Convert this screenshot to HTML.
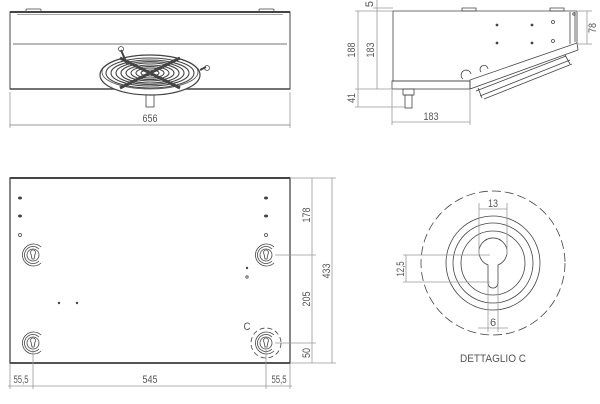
<!DOCTYPE html>
<html><head><meta charset="utf-8"><style>
html,body{margin:0;padding:0;background:#fff;}
svg{display:block}
text{font-family:"Liberation Sans",sans-serif;fill:#555;font-size:11px}
</style></head><body>
<svg width="600" height="404" viewBox="0 0 600 404" xmlns="http://www.w3.org/2000/svg">
<g fill="none" stroke="#444" stroke-width="0.8">
<!-- FRONT VIEW -->
<rect x="26" y="9" width="15" height="3" rx="1"/>
<rect x="259" y="9" width="15" height="3" rx="1"/>
<rect x="10" y="12" width="280" height="77" stroke-width="1"/>
<line x1="10" y1="12" x2="290" y2="12" stroke-width="2"/>
<line x1="17" y1="14.5" x2="283" y2="14.5" stroke="#888"/>
<line x1="13" y1="44" x2="287" y2="44"/>
<line x1="10" y1="89" x2="290" y2="89" stroke-width="1.6"/>
<rect x="146" y="89" width="8" height="18"/>
<ellipse cx="150" cy="75" rx="50" ry="20" fill="#fff" stroke-width="1.2"/>
<ellipse cx="150" cy="72" rx="48" ry="17"/>
<g stroke-width="1.1">
<ellipse cx="150" cy="73" rx="44" ry="15"/>
<ellipse cx="150" cy="73" rx="39" ry="13"/>
<ellipse cx="150" cy="73" rx="34" ry="11.5"/>
<ellipse cx="150" cy="73" rx="29" ry="10"/>
<ellipse cx="150" cy="73" rx="24" ry="8"/>
<ellipse cx="150" cy="73" rx="19" ry="6.5"/>
<ellipse cx="150" cy="73" rx="14" ry="5"/>
<ellipse cx="150" cy="73" rx="9" ry="3"/>
</g>
<path d="M120 58 L180 88 M180 58 L120 88" stroke-width="3"/>
<path d="M121 50 L127 64 M200 70 L206 67" stroke-width="2"/>
<circle cx="121" cy="49" r="2.5"/><circle cx="207" cy="68" r="2.5"/>
<line x1="10" y1="92" x2="10" y2="128" stroke="#999"/>
<line x1="290" y1="92" x2="290" y2="128" stroke="#999"/>
<line x1="10" y1="125" x2="290" y2="125" stroke="#777"/>
<!-- SIDE VIEW -->
<path d="M393 11 L577 11 L577 43 L470 80 L470 81 L393 81 Z"/>
<rect x="392" y="81" width="78" height="8"/>
<path d="M470 81 L470 89 L578 50 L577 43"/>
<path d="M462 11 h14 v-3 h-14z M550 11 h14 v-3 h-14z"/>
<path d="M570 12 v32 M575 12 v30"/>
<circle cx="574" cy="14" r="1.2"/>
<path d="M476 91 L566 56 M480 96 L570 60 M484 99 L572 64 M478 88 L482 98 M565 55 L570 64" />
<path d="M463 79 a5 5 0 1 1 8 -5 M481 72 a4 4 0 1 1 7 -3"/>
<circle cx="497" cy="25" r="1" fill="#444"/><circle cx="532" cy="25" r="1" fill="#444"/>
<circle cx="497" cy="43" r="1" fill="#444"/><circle cx="532" cy="43" r="1" fill="#444"/>
<circle cx="553" cy="22" r="1.5"/><circle cx="553" cy="41" r="1.5"/>
<rect x="403" y="89" width="11" height="6"/>
<rect x="405" y="95" width="7" height="13"/>
<g stroke="#999">
<line x1="358" y1="11" x2="358" y2="89"/><line x1="377" y1="11" x2="377" y2="89"/>
<line x1="355" y1="11" x2="393" y2="11"/><line x1="373" y1="8" x2="393" y2="8"/>
<line x1="377" y1="0" x2="377" y2="11"/>
<line x1="355" y1="89" x2="392" y2="89"/><line x1="358" y1="89" x2="358" y2="107"/>
<line x1="355" y1="107" x2="405" y2="107"/>
<line x1="392" y1="90" x2="392" y2="125"/><line x1="470" y1="90" x2="470" y2="125"/>
<line x1="392" y1="122" x2="470" y2="122"/>
<line x1="578" y1="11" x2="592" y2="11"/><line x1="578" y1="44" x2="592" y2="44"/>
<line x1="587" y1="11" x2="587" y2="44"/>
</g>
<!-- PLAN VIEW -->
<rect x="10" y="178" width="280" height="185" stroke-width="1.3"/>
<line x1="10" y1="178" x2="290" y2="178" stroke-width="2"/>
<line x1="10" y1="363" x2="290" y2="363" stroke-width="1.8"/>
<g fill="#444" stroke="none">
<ellipse cx="20" cy="198" rx="2" ry="1.5"/><ellipse cx="20" cy="216" rx="2" ry="1.5"/>
<ellipse cx="266" cy="198" rx="2" ry="1.5"/><ellipse cx="266" cy="216" rx="2" ry="1.5"/>
<circle cx="247" cy="268" r="1.2"/><circle cx="59" cy="303" r="1.2"/><circle cx="77" cy="303" r="1.2"/>
</g>
<circle cx="20" cy="235" r="1.5"/><circle cx="266" cy="235" r="1.5"/><circle cx="247" cy="277" r="1.2"/>
<g id="kh">
<path d="M41 263 A11 11 0 1 1 41 247"/>
<path d="M39 261 A8.5 8.5 0 1 1 39 249"/>
<circle cx="33" cy="255" r="6"/>
<path d="M31 254 a2.5 2.5 0 1 1 4 0 l-1 5 h-2 z"/>
</g>
<use href="#kh" x="233" y="0"/>
<use href="#kh" x="0" y="88"/>
<use href="#kh" x="233" y="88"/>
<circle cx="266" cy="343" r="15" stroke-dasharray="5 3"/>
<g stroke="#999">
<line x1="275" y1="255" x2="316" y2="255"/><line x1="275" y1="343" x2="316" y2="343"/>
<line x1="290" y1="178" x2="336" y2="178"/><line x1="290" y1="363" x2="336" y2="363"/>
<line x1="312" y1="178" x2="312" y2="363"/><line x1="332" y1="178" x2="332" y2="363"/>
<line x1="10" y1="364" x2="10" y2="389"/><line x1="33" y1="350" x2="33" y2="389"/>
<line x1="266" y1="350" x2="266" y2="389"/><line x1="290" y1="364" x2="290" y2="389"/>
<line x1="8" y1="386" x2="292" y2="386"/>
</g>
<!-- DETAIL C -->
<circle cx="493" cy="263" r="72" stroke-dasharray="9 4"/>
<circle cx="493" cy="263" r="47"/>
<circle cx="493" cy="263" r="40"/>
<circle cx="493" cy="263" r="32"/>
<path d="M488 265 A14 14 0 1 1 498 265 L498 283 A5 5 0 0 1 488 283 Z"/>
<g stroke="#999">
<line x1="479" y1="203" x2="479" y2="255"/><line x1="507" y1="203" x2="507" y2="255"/>
<line x1="479" y1="209" x2="507" y2="209"/>
<line x1="403" y1="255" x2="490" y2="255"/><line x1="403" y1="282" x2="490" y2="282"/>
<line x1="406" y1="255" x2="406" y2="282"/>
<line x1="488" y1="285" x2="488" y2="332"/><line x1="498" y1="285" x2="498" y2="332"/>
<line x1="478" y1="328" x2="508" y2="328"/>
</g>
</g>
<g lengthAdjust="spacingAndGlyphs">
<text x="150" y="122" text-anchor="middle" textLength="15" lengthAdjust="spacingAndGlyphs">656</text>
<text transform="translate(355 50) rotate(-90)" text-anchor="middle" textLength="15" lengthAdjust="spacingAndGlyphs">188</text>
<text transform="translate(374 50) rotate(-90)" text-anchor="middle" textLength="15" lengthAdjust="spacingAndGlyphs">183</text>
<text transform="translate(373 4) rotate(-90)" text-anchor="middle" font-size="9">5</text>
<text transform="translate(355 98) rotate(-90)" text-anchor="middle" textLength="10" lengthAdjust="spacingAndGlyphs">41</text>
<text transform="translate(596 28) rotate(-90)" text-anchor="middle" textLength="10" lengthAdjust="spacingAndGlyphs">78</text>
<text x="431" y="120" text-anchor="middle" textLength="15" lengthAdjust="spacingAndGlyphs">183</text>
<text transform="translate(310 215) rotate(-90)" text-anchor="middle" textLength="15" lengthAdjust="spacingAndGlyphs">178</text>
<text transform="translate(310 299) rotate(-90)" text-anchor="middle" textLength="15" lengthAdjust="spacingAndGlyphs">205</text>
<text transform="translate(310 353) rotate(-90)" text-anchor="middle" textLength="10" lengthAdjust="spacingAndGlyphs">50</text>
<text transform="translate(330 271) rotate(-90)" text-anchor="middle" textLength="15" lengthAdjust="spacingAndGlyphs">433</text>
<text x="21" y="383" text-anchor="middle" textLength="15" lengthAdjust="spacingAndGlyphs">55,5</text>
<text x="150" y="383" text-anchor="middle" textLength="15" lengthAdjust="spacingAndGlyphs">545</text>
<text x="279" y="383" text-anchor="middle" textLength="15" lengthAdjust="spacingAndGlyphs">55,5</text>
<text x="247" y="330" text-anchor="middle" font-size="14" textLength="7" lengthAdjust="spacingAndGlyphs">C</text>
<text x="493" y="207" text-anchor="middle" textLength="10" lengthAdjust="spacingAndGlyphs">13</text>
<text transform="translate(404 269) rotate(-90)" text-anchor="middle" textLength="15" lengthAdjust="spacingAndGlyphs">12,5</text>
<text x="493" y="326" text-anchor="middle">6</text>
<text x="493" y="362" text-anchor="middle" font-size="14" textLength="66" lengthAdjust="spacingAndGlyphs">DETTAGLIO C</text>
</g>
</svg>
</body></html>
